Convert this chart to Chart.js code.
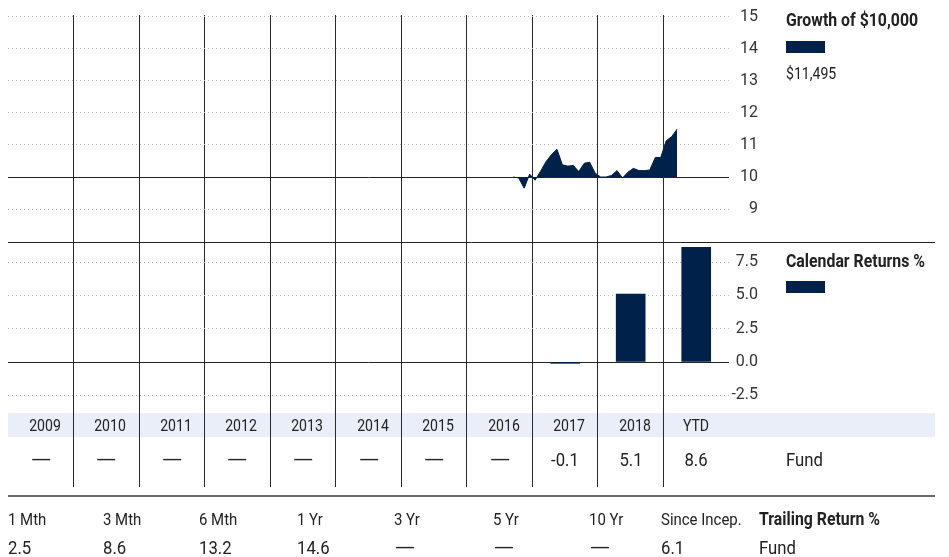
<!DOCTYPE html>
<html>
<head>
<meta charset="utf-8">
<script src="https://cdn.jsdelivr.net/npm/chart.js@4.4.1/dist/chart.umd.min.js"></script>
<style>
  body { margin: 0; background: #fff; }
  #wrap { position: relative; width: 949px; height: 557px; overflow: hidden;
          font-family: Roboto, 'Liberation Sans', sans-serif; color: #222; }
  #chart { position: absolute; left: 0; top: 0; z-index: 1; }
  .t { position: absolute; white-space: nowrap; line-height: 1; z-index: 2; }
  .b { font-weight: bold; }
  .band { position: absolute; left: 8px; width: 927px; top: 413px; height: 24px; background: #eaeef8; z-index: 0; }
  .rule { position: absolute; left: 8px; width: 927px; top: 495px; height: 2px; background: #6a6a6a; }
  .swatch { position: absolute; left: 786px; width: 39px; height: 12px; background: #00214a; }
</style>
</head>
<body>
<div id="wrap">
  <div class="band"></div>
  <canvas id="chart" width="949" height="557"></canvas>
  <div class="rule"></div>
</div>
<script>
var FONT = "Roboto, 'Liberation Sans', sans-serif";
var NAVY = '#00214a';
var NARROW = 0.88;

// columns of the calendar table
var yearLabels = ['2009', '2010', '2011', '2012', '2013', '2014', '2015', '2016', '2017', '2018', 'YTD'];
var calReturns = [null, null, null, null, null, null, null, null, -0.1, 5.1, 8.6];

// growth of 10,000 (in thousands), monthly
var growthMonths = ['2016-09', '2016-10', '2016-11', '2016-12',
  '2017-01', '2017-02', '2017-03', '2017-04', '2017-05', '2017-06', '2017-07', '2017-08', '2017-09', '2017-10', '2017-11', '2017-12',
  '2018-01', '2018-02', '2018-03', '2018-04', '2018-05', '2018-06', '2018-07', '2018-08', '2018-09', '2018-10', '2018-11', '2018-12',
  '2019-01', '2019-02', '2019-03'];
var growthValues = [10.0, 9.97, 9.65, 10.09,
  9.9, 10.18, 10.48, 10.7, 10.87, 10.38, 10.34, 10.36, 10.17, 10.43, 10.46, 10.12,
  10.0, 10.0, 10.05, 10.2, 9.97, 10.15, 10.27, 10.2, 10.2, 10.22, 10.61, 10.61,
  11.13, 11.26, 11.495];

var growthTicks = [9, 10, 11, 12, 13, 14, 15];
var returnTicks = [-2.5, 0, 2.5, 5, 7.5];

var trailingLabels = ['1 Mth', '3 Mth', '6 Mth', '1 Yr', '3 Yr', '5 Yr', '10 Yr', 'Since Incep.'];
var trailingValues = [2.5, 8.6, 13.2, 14.6, null, null, null, 6.1];

function monthToX(m) {
  var p = m.split('-');
  return (parseInt(p[0]) - 2009) + (parseInt(p[1]) - 0.5) / 12;
}

var growthData = growthMonths.map(function (m, i) { return { x: monthToX(m), y: growthValues[i] }; });
var barData = yearLabels.map(function (l, i) { return { x: i + 0.5, y: calReturns[i] }; });

// solid rule between growth and returns panels
var panelRule = {
  id: 'panelRule',
  afterDraw: function (chart) {
    var ctx = chart.ctx;
    var y = Math.round(chart.scales.yG.bottom) + 0.5;
    ctx.save();
    ctx.strokeStyle = '#222';
    ctx.lineWidth = 1;
    ctx.beginPath();
    ctx.moveTo(chart.chartArea.left, y);
    ctx.lineTo(935, y);
    ctx.stroke();
    ctx.restore();
  }
};

function gridColor(base) {
  return function (c) { return c.tick && c.tick.value === base ? '#222' : '#b8b8b8'; };
}
function gridDash(base) {
  return function (c) { return c.tick && c.tick.value === base ? [] : [1, 3]; };
}

var chart = new Chart(document.getElementById('chart'), {
  type: 'line',
  data: {
    datasets: [{
      type: 'line',
      data: growthData,
      xAxisID: 'x',
      yAxisID: 'yG',
      borderColor: NAVY,
      borderWidth: 1,
      backgroundColor: NAVY,
      fill: { value: 10 },
      pointRadius: 0,
      tension: 0
    }, {
      type: 'bar',
      data: barData,
      xAxisID: 'x',
      yAxisID: 'yR',
      backgroundColor: NAVY,
      barThickness: 29
    }]
  },
  options: {
    responsive: false,
    maintainAspectRatio: false,
    animation: false,
    layout: { padding: { left: 8, top: 15, right: 191, bottom: 70 } },
    plugins: { legend: { display: false }, tooltip: { enabled: false } },
    scales: {
      x: {
        type: 'linear', min: 0, max: yearLabels.length, offset: false,
        ticks: { display: false, stepSize: 1, autoSkip: false },
        border: { display: false },
        grid: {
          drawTicks: false, offset: false, lineWidth: 1,
          color: function (c) {
            var v = c.tick ? c.tick.value : 0;
            return v > 0 && v < yearLabels.length ? '#2a2a2a' : 'rgba(0,0,0,0)';
          }
        },
        afterFit: function (s) { s.height = 0; }
      },
      yG: {
        type: 'linear', position: 'right', stack: 'panels', stackWeight: 227,
        min: 7.97, max: 15.06,
        afterBuildTicks: function (s) { s.ticks = growthTicks.map(function (v) { return { value: v }; }); },
        afterFit: function (s) { s.width = 29; },
        ticks: { autoSkip: false, crossAlign: 'far', padding: 0, color: '#333', font: { family: FONT, size: 16 } },
        grid: { drawTicks: false, color: gridColor(10) },
        border: { display: false, dash: gridDash(10) }
      },
      yR: {
        type: 'linear', position: 'right', stack: 'panels', stackWeight: 170,
        min: -3.75, max: 9.0,
        afterBuildTicks: function (s) { s.ticks = returnTicks.map(function (v) { return { value: v }; }); },
        afterFit: function (s) { s.width = 29; },
        ticks: {
          autoSkip: false, crossAlign: 'far', padding: 0, color: '#333', font: { family: FONT, size: 16 },
          callback: function (v) { return v.toFixed(1); }
        },
        grid: { drawTicks: false, color: gridColor(0) },
        border: { display: false, dash: gridDash(0) }
      },
      yT: {
        type: 'linear', position: 'right', stack: 'panels', stackWeight: 75,
        min: 0, max: 1,
        afterFit: function (s) { s.width = 29; },
        ticks: { display: false },
        grid: { display: false },
        border: { display: false }
      }
    }
  },
  plugins: [panelRule]
});

// text overlays
var wrap = document.getElementById('wrap');
function addText(txt, x, y, size, align, bold, stretch) {
  var d = document.createElement('div');
  var sx = stretch || NARROW;
  d.className = 't' + (bold ? ' b' : '');
  d.textContent = txt;
  d.style.fontSize = size + 'px';
  d.style.top = (y - size / 2) + 'px';
  d.style.left = x + 'px';
  if (align === 'center') {
    d.style.transformOrigin = 'center';
    d.style.transform = 'translateX(-50%) scaleX(' + sx + ')';
  } else {
    d.style.transformOrigin = 'left center';
    d.style.transform = 'scaleX(' + sx + ')';
  }
  wrap.appendChild(d);
}
// missing values are shown as a long dash
function addValue(v, x, y, align) {
  if (v === null) addText('—', x, y, 19, align, false, 1.45);
  else addText(v.toFixed(1), x, y, 19, align);
}

var xs = chart.scales.x;
yearLabels.forEach(function (lab, i) {
  var cx = xs.getPixelForValue(i + 0.5);
  addText(lab, cx + (lab === 'YTD' ? 0 : 4), 426, 16, 'center');
  addValue(calReturns[i], cx, 459, 'center');
});
addText('Fund', 786, 459, 19, 'left');

addText('Growth of $10,000', 786, 20, 18, 'left', true);
addText('$11,495', 786, 74, 16, 'left');
addText('Calendar Returns %', 786, 261, 18, 'left', true);
var s1 = document.createElement('div'); s1.className = 'swatch'; s1.style.top = '41px'; wrap.appendChild(s1);
var s2 = document.createElement('div'); s2.className = 'swatch'; s2.style.top = '281px'; wrap.appendChild(s2);

var trailX = [8, 103, 199, 297, 394, 493, 589, 661];
trailingLabels.forEach(function (lab, i) {
  addText(lab, trailX[i], 519, 17, 'left');
  addValue(trailingValues[i], trailX[i], 547, 'left');
});
addText('Trailing Return %', 759, 519, 18, 'left', true);
addText('Fund', 759, 547, 19, 'left');
</script>
</body>
</html>
